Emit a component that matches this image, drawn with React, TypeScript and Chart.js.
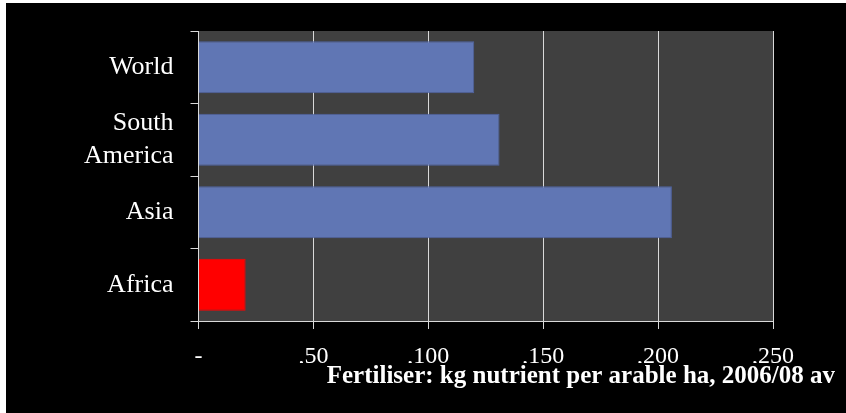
import React, { useEffect, useRef } from "react";
import { Chart, registerables } from "chart.js";

Chart.register(...registerables);

const categories: (string | string[])[] = ["World", ["South", "America"], "Asia", "Africa"];
const values = [120, 131, 206, 20.5];
const barColors = ["#6076b4", "#6076b4", "#6076b4", "#ff0000"];
const barBorders = ["#4f63a0", "#4f63a0", "#4f63a0", "#ff0000"];
const xTickLabels = ["-", ",50", ",100", ",150", ",200", ",250"];
const axisTitle = "Fertiliser: kg nutrient per arable ha, 2006/08 av";

const plotBackground = {
  id: "plotBackground",
  beforeDraw(chart: any) {
    const { ctx, chartArea } = chart;
    if (!chartArea) return;
    ctx.save();
    ctx.fillStyle = "#404040";
    ctx.fillRect(chartArea.left, chartArea.top, chartArea.right - chartArea.left, chartArea.bottom - chartArea.top);
    ctx.restore();
  },
};

export default function App() {
  const ref = useRef<HTMLCanvasElement | null>(null);

  useEffect(() => {
    document.body.style.margin = "0";
    document.body.style.background = "#ffffff";
    const canvas = ref.current;
    if (!canvas) return;
    const font = "'Liberation Serif', 'Times New Roman', serif";
    const chart = new Chart(canvas, {
      type: "bar",
      data: {
        labels: categories as any,
        datasets: [
          {
            data: values,
            backgroundColor: barColors,
            borderColor: barBorders,
            borderWidth: 1,
            categoryPercentage: 0.715,
            barPercentage: 1,
          },
        ],
      },
      options: {
        indexAxis: "y",
        responsive: false,
        animation: false,
        layout: { padding: { top: 28, right: 11, bottom: 0, left: 0 } },
        plugins: {
          legend: { display: false },
          tooltip: { enabled: false },
          title: {
            display: true,
            position: "bottom",
            align: "end",
            text: axisTitle,
            color: "#ffffff",
            font: { family: font, size: 25, weight: "bold", lineHeight: 1 },
            padding: { top: 1, bottom: 24 },
          },
        },
        scales: {
          x: {
            type: "linear",
            min: 0,
            max: 250,
            ticks: {
              stepSize: 50,
              color: "#ffffff",
              font: { family: font, size: 24 },
              padding: 13,
              callback: (_v: any, i: number) => xTickLabels[i],
            },
            grid: { color: "#d9d9d9", lineWidth: 1, tickLength: 8 },
            border: { color: "#d9d9d9" },
            afterFit: (s: any) => {
              s.height = 42;
            },
          },
          y: {
            type: "category",
            offset: true,
            ticks: {
              color: "#ffffff",
              font: { family: font, size: 26, lineHeight: 1.29 },
              padding: 17,
            },
            grid: { offset: true, drawOnChartArea: false, color: "#d9d9d9", tickLength: 8 },
            border: { color: "#d9d9d9" },
            afterFit: (s: any) => {
              s.width = 192.5;
              s.paddingTop = 0;
              s.paddingBottom = 0;
            },
          },
          yr: {
            type: "category",
            position: "right",
            ticks: { display: false },
            grid: { display: false },
            border: { display: false },
            afterFit: (s: any) => {
              s.width = 62;
              s.paddingTop = 0;
              s.paddingBottom = 0;
            },
          },
        },
      } as any,
      plugins: [plotBackground],
    });
    return () => chart.destroy();
  }, []);

  return (
    <div style={{ paddingLeft: 6, paddingTop: 3 }}>
      <canvas ref={ref} width={840} height={410} style={{ display: "block", background: "#000000" }} />
    </div>
  );
}
